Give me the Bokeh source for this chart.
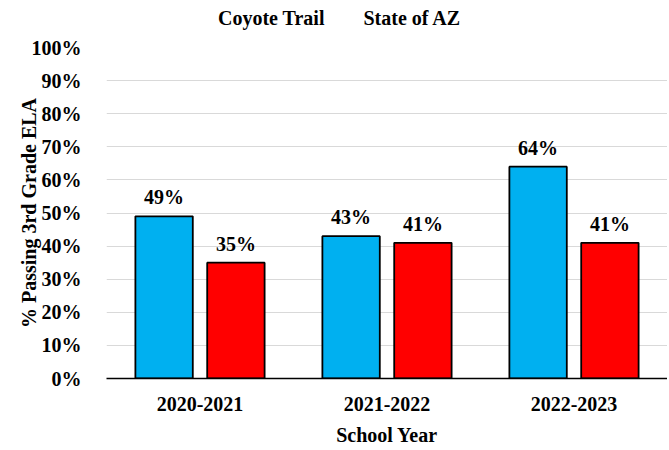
from bokeh.plotting import figure
from bokeh.layouts import column
from bokeh.models import (ColumnDataSource, Legend, LegendItem, NumeralTickFormatter, LabelSet,
                          FactorRange, CDSView, IndexFilter)
from bokeh.transform import dodge
from bokeh.embed import file_html
from bokeh.resources import INLINE

years = ["2020-2021", "2021-2022", "2022-2023"]
coyote = [0.49, 0.43, 0.64]
state = [0.35, 0.41, 0.41]
coyote_labels = ["49%", "43%", "64%"]
state_labels = ["35%", "41%", "41%"]
series_names = ["Coyote Trail", "State of AZ"]
series_colors = ["#00B0F0", "#FF0000"]

src = ColumnDataSource(dict(years=years, coyote=coyote, state=state,
                            cl=coyote_labels, sl=state_labels))

FONT = "Liberation Serif"
FS = "20px"
W = 667
OFF = 0.192
BW = 0.307

# ---- legend strip (its bars are filtered out; only the legend shows) ----
lf = figure(width=W, height=30, output_backend="svg", toolbar_location=None,
            min_border=0, x_range=FactorRange(*years), y_range=(-6, -5),
            x_axis_location=None, y_axis_location=None)
lf.outline_line_color = None
lf.grid.visible = False
lr = [lf.vbar(x=dodge("years", o, range=lf.x_range), top=col, width=BW, source=src,
              view=CDSView(filter=IndexFilter(indices=[])),
              fill_color=c, line_color="black", line_width=1.5)
      for col, o, c in [("coyote", -OFF, series_colors[0]), ("state", OFF, series_colors[1])]]
legend = Legend(items=[LegendItem(label=n, renderers=[r]) for n, r in zip(series_names, lr)],
                orientation="horizontal", location=(97, 0),
                label_text_font=FONT, label_text_font_style="bold", label_text_font_size=FS,
                label_text_color="black", glyph_width=11, glyph_height=11,
                spacing=24, padding=2, margin=0, label_standoff=4, border_line_color=None,
                background_fill_alpha=0)
lf.add_layout(legend, "center")

# ---- main chart ----
p = figure(x_range=FactorRange(*years), y_range=(0, 1), width=W, height=418,
           output_backend="svg", toolbar_location=None,
           min_border_left=106, min_border_right=0, min_border_top=17, min_border_bottom=68)
p.outline_line_color = None
p.background_fill_color = "white"

p.vbar(x=dodge("years", -OFF, range=p.x_range), top="coyote", width=BW, source=src,
       fill_color=series_colors[0], line_color="black", line_width=1.8)
p.vbar(x=dodge("years", OFF, range=p.x_range), top="state", width=BW, source=src,
       fill_color=series_colors[1], line_color="black", line_width=1.8)

for col, lab, off in [("coyote", "cl", -OFF), ("state", "sl", OFF)]:
    ls = LabelSet(x=dodge("years", off, range=p.x_range), y=col, text=lab, source=src,
                  text_align="center", text_baseline="bottom", y_offset=8,
                  text_font=FONT, text_font_style="bold", text_font_size=FS, text_color="black")
    p.add_layout(ls)

p.yaxis.formatter = NumeralTickFormatter(format="0%")
p.yaxis.ticker = [i / 10 for i in range(11)]
p.yaxis.axis_line_color = None
p.yaxis.major_tick_line_color = None
p.yaxis.minor_tick_line_color = None
p.yaxis.major_label_text_font = FONT
p.yaxis.major_label_text_font_style = "bold"
p.yaxis.major_label_text_font_size = FS
p.yaxis.major_label_text_color = "black"
p.yaxis.major_label_standoff = 19
p.yaxis.axis_label = "% Passing 3rd Grade ELA"
p.yaxis.axis_label_text_font = FONT
p.yaxis.axis_label_text_font_style = "bold"
p.yaxis.axis_label_text_font_size = FS
p.yaxis.axis_label_text_color = "black"
p.yaxis.axis_label_standoff = -11

p.xaxis.axis_line_color = "black"
p.xaxis.axis_line_width = 1.5
p.xaxis.major_tick_line_color = None
p.xaxis.minor_tick_line_color = None
p.xaxis.major_label_text_font = FONT
p.xaxis.major_label_text_font_style = "bold"
p.xaxis.major_label_text_font_size = FS
p.xaxis.major_label_text_color = "black"
p.xaxis.major_label_standoff = 12
p.xaxis.axis_label = "School Year"
p.xaxis.axis_label_text_font = FONT
p.xaxis.axis_label_text_font_style = "bold"
p.xaxis.axis_label_text_font_size = FS
p.xaxis.axis_label_text_color = "black"
p.xaxis.axis_label_standoff = 10

p.xgrid.grid_line_color = None
p.ygrid.grid_line_color = "#D9D9D9"
p.ygrid.grid_line_width = 1

layout = column(lf, p, spacing=0)
open("out.html", "w").write(file_html(layout, INLINE))
